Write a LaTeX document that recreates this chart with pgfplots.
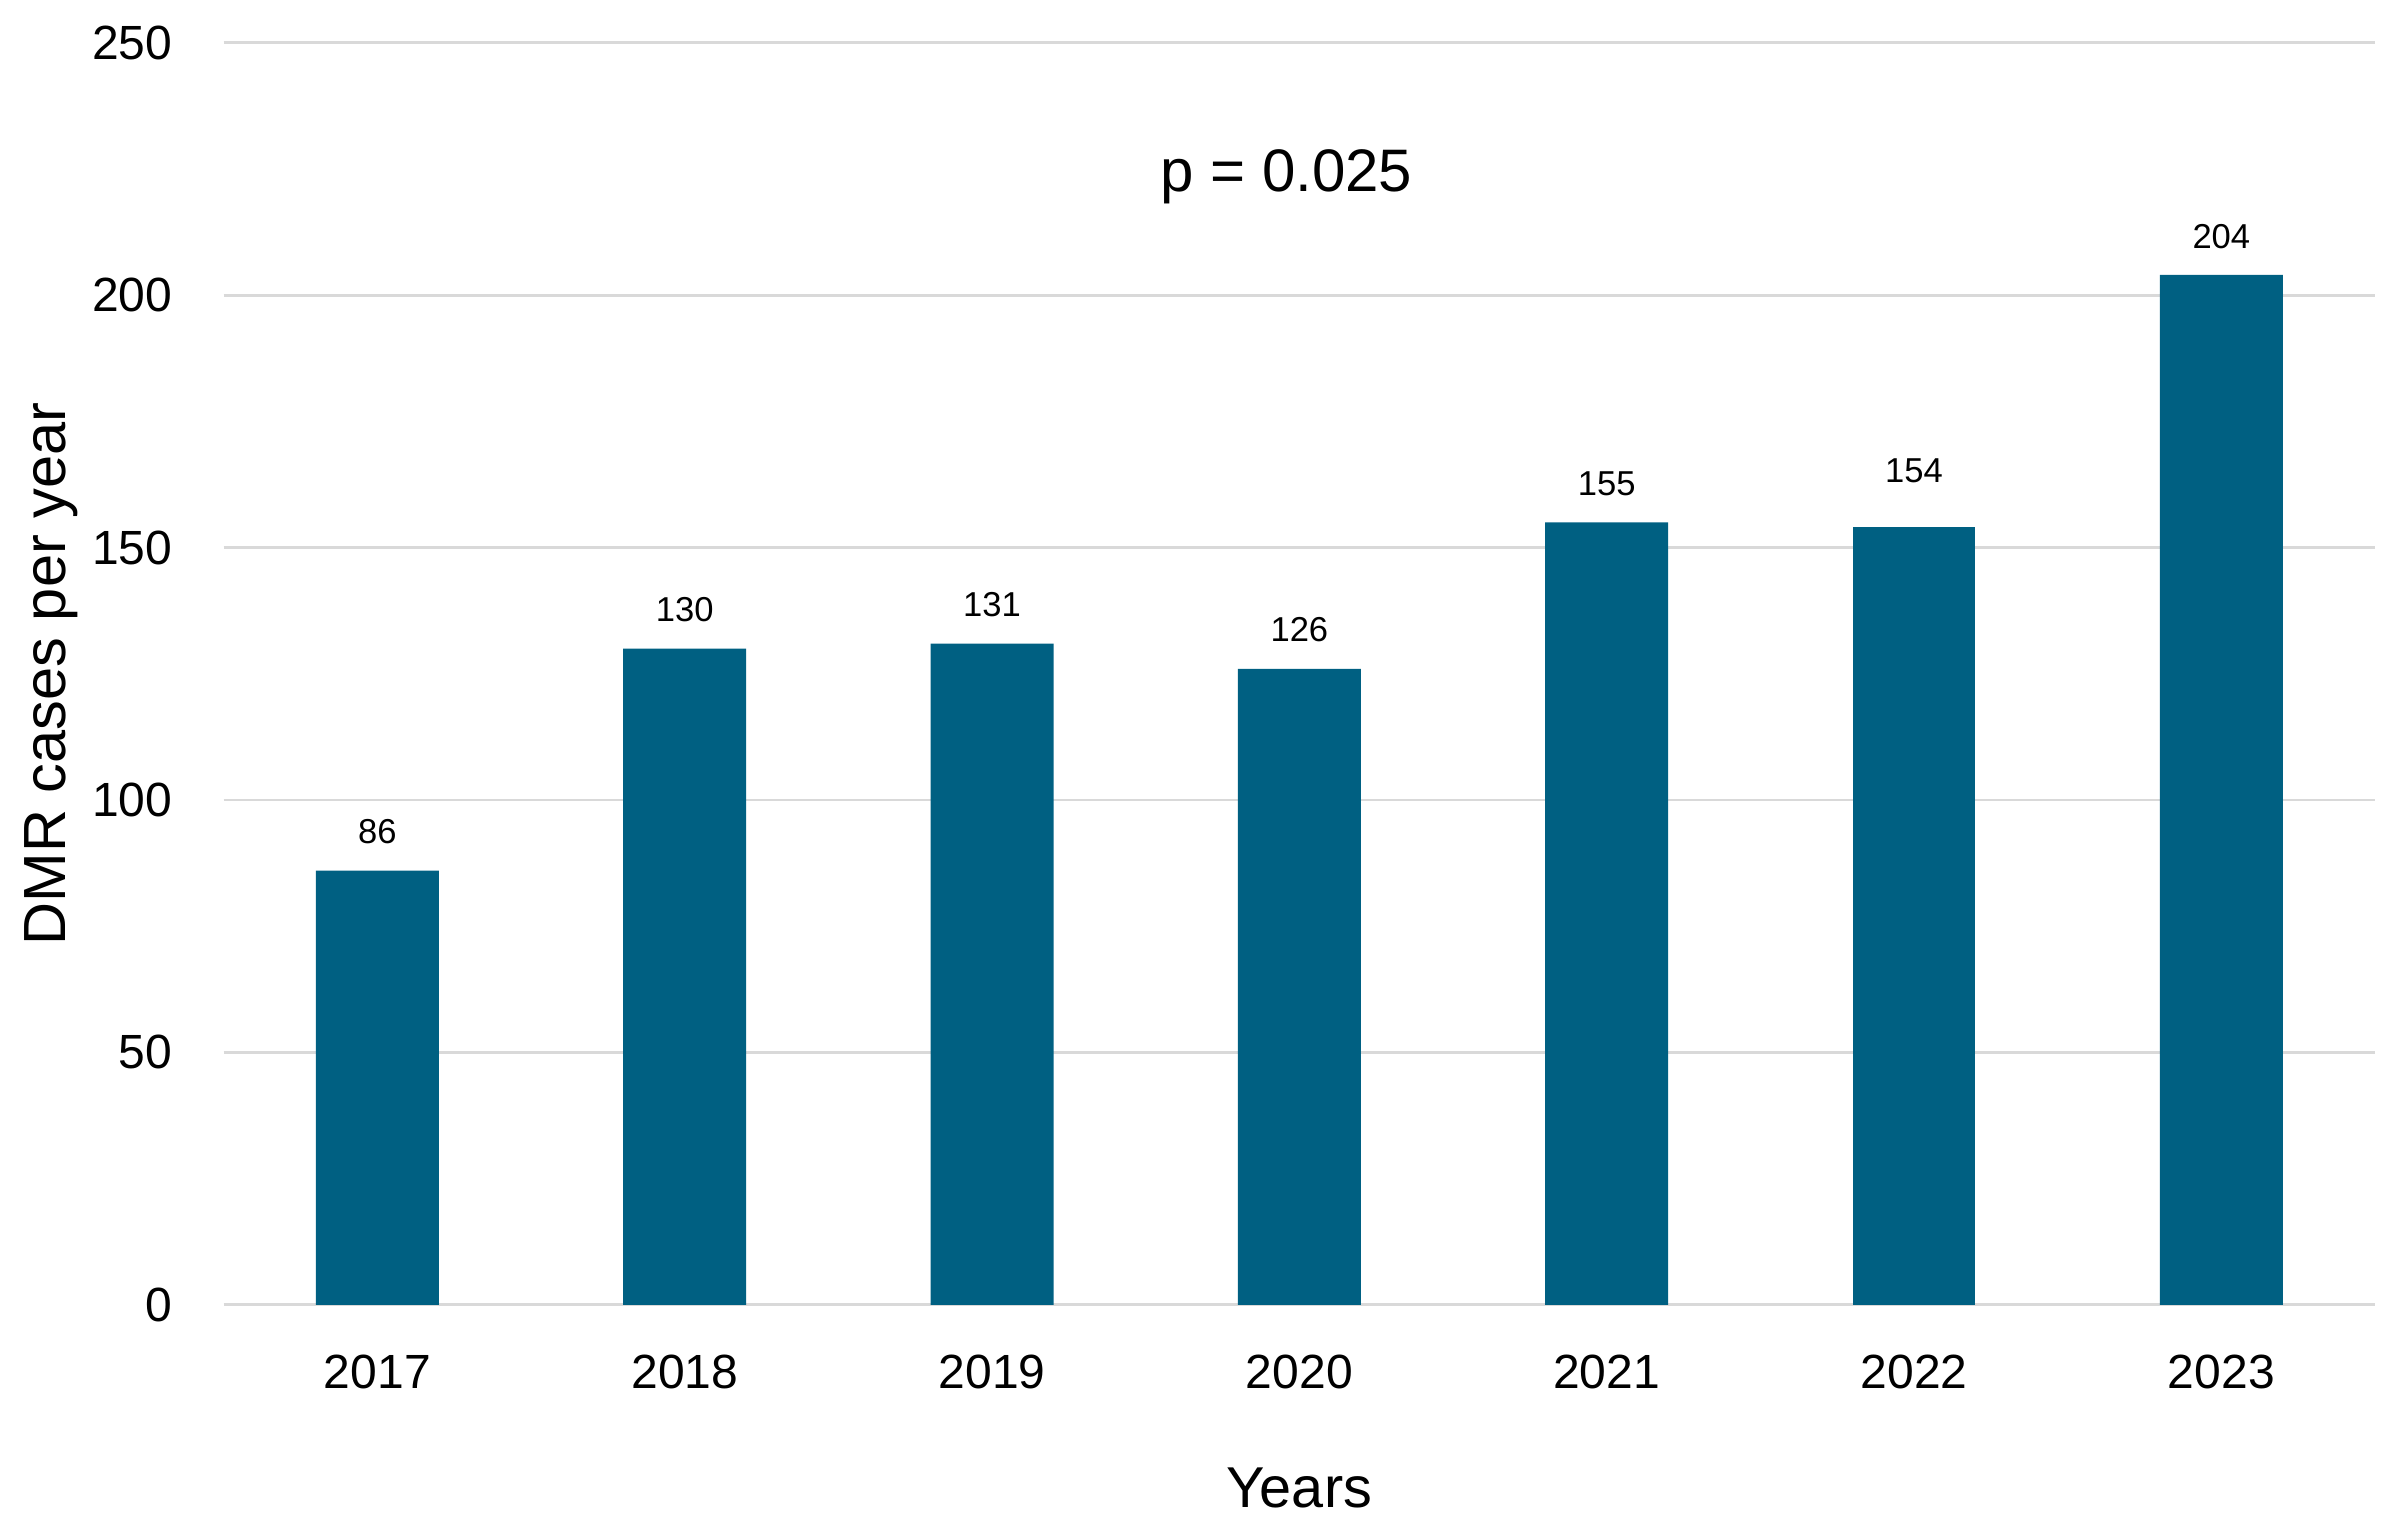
\documentclass[border=0pt]{standalone}
\usepackage{fontspec}
\setmainfont{Liberation Sans}
\usepackage{pgfplots}
\pgfplotsset{compat=1.18}
\definecolor{barc}{RGB}{0,96,130}
\definecolor{gridc}{RGB}{217,217,217}
\begin{document}
\begin{tikzpicture}
\path[use as bounding box] (-46.6pt,-46.9pt) rectangle (450.6pt,271.8pt);
\begin{axis}[
  at={(0pt,0pt)}, anchor=south west,
  scale only axis, width=448.1pt, height=262.9pt,
  xmin=-0.5, xmax=6.5, ymin=0, ymax=250,
  ybar, bar width=0.4, bar shift=0pt,
  ytick={0,50,100,150,200,250},
  xtick={0,1,2,3,4,5,6},
  xticklabels={2017,2018,2019,2020,2021,2022,2023},
  axis line style={draw=none},
  major tick length=0pt,
  ymajorgrids, grid style={gridc, line width=0.6pt},
  /pgf/number format/assume math mode=true,
  yticklabel style={font=\fontsize{10}{12}\selectfont, anchor=east, inner sep=0pt, xshift=-10.5pt},
  xticklabel style={font=\fontsize{10}{12}\selectfont, anchor=base, inner sep=0pt, yshift=-17.4pt},
  xlabel={Years},
  xlabel style={at={(axis description cs:0.5,0)}, anchor=base, inner sep=0pt, yshift=-42.2pt, font=\fontsize{12}{14}\selectfont},
  ylabel={DMR cases per year},
  ylabel style={at={(axis description cs:-0.0736,0.5)}, anchor=base, inner sep=0pt, font=\fontsize{12.4}{14}\selectfont},
]
\addplot[fill=barc, draw=none,
  nodes near coords,
  nodes near coords style={font=\fontsize{7.2}{8}\selectfont, anchor=base, inner sep=0pt, yshift=5.6pt, text=black}]
  coordinates {(0,86) (1,130) (2,131) (3,126) (4,155) (6,204)};
\addplot[fill=barc, draw=none,
  nodes near coords,
  nodes near coords style={font=\fontsize{7.2}{8}\selectfont, anchor=base, inner sep=0pt, yshift=9.4pt, text=black}]
  coordinates {(5,154)};
\node[anchor=base, inner sep=0pt, font=\fontsize{12.5}{14}\selectfont] at (axis description cs:0.494,0.8818) {p = 0.025};
\end{axis}
\end{tikzpicture}
\end{document}
